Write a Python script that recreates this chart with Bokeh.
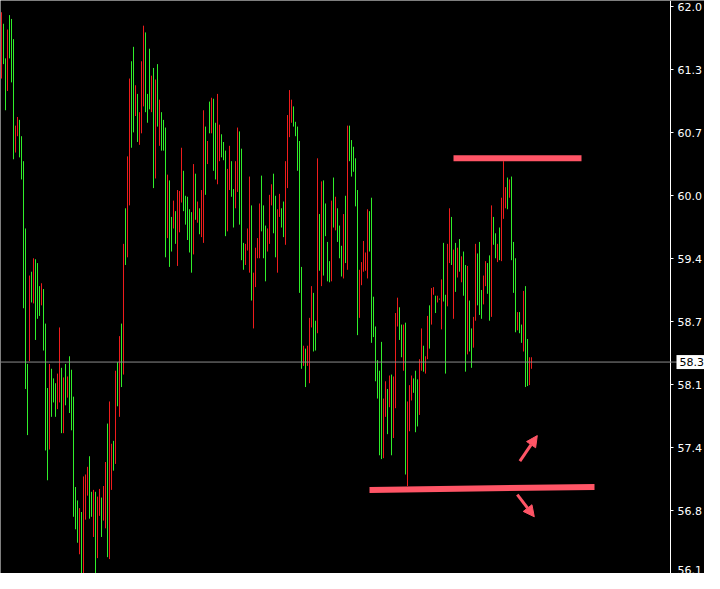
from bokeh.plotting import figure
from bokeh.models import Range1d, FixedTicker, Span, Label, Arrow, NormalHead
from bokeh.embed import file_html
from bokeh.resources import INLINE

# ---- bar data (high / low per bar, 1 = up bar, 0 = down bar) ----
high = [
    61.99, 61.87, 61.51, 61.81, 61.96, 61.92, 61.71, 60.81, 60.90, 60.87,
    60.70, 60.44, 59.74, 58.33, 59.25, 59.29, 59.43, 59.42, 59.38, 59.14,
    59.17, 59.11, 58.75, 58.08, 58.33, 58.28, 58.18, 58.13, 58.23, 58.71,
    58.29, 58.19, 58.33, 58.20, 58.41, 58.27, 57.99, 57.05, 56.91, 56.83,
    56.79, 57.16, 57.18, 57.26, 57.37, 57.00, 57.02, 57.00, 56.95, 57.03,
    56.94, 57.06, 57.31, 57.71, 57.94, 57.50, 57.53, 58.26, 58.35, 58.62,
    58.75, 59.58, 59.95, 60.49, 61.30, 61.48, 61.63,
    61.23, 61.14, 60.95, 61.48, 61.85, 61.78, 61.14, 61.61, 61.33, 61.41,
    61.29, 61.45, 61.08, 60.95, 60.87, 60.79, 60.30, 60.24, 59.86, 60.03,
    59.92, 60.14, 60.13, 60.58, 60.34, 60.08, 60.07, 59.94, 59.91, 60.41,
    60.31, 60.02, 59.95, 60.14, 60.97, 60.80, 60.65, 61.06, 61.10, 61.09,
    60.84, 61.14, 60.82, 60.72, 60.64, 60.55, 60.36, 60.60, 60.44, 60.15,
    60.44, 60.79, 60.75, 60.57, 59.59, 59.58, 59.74, 60.28, 59.98, 59.28,
    59.54, 59.64, 60.00, 60.29, 59.98, 59.77, 59.74,
    60.09, 60.20, 60.31, 60.08, 59.94, 60.10, 59.95, 60.02, 60.44, 60.92,
    61.18, 61.08, 61.01, 60.85, 60.80, 60.65, 59.34, 58.52, 58.49, 58.52,
    58.81, 59.14, 59.07, 58.78, 60.47, 59.89, 60.23, 60.24, 60.00, 59.60,
    59.40, 60.03, 60.27, 60.07, 59.95, 59.77, 59.56, 59.89, 60.08, 60.81,
    60.81, 60.66, 60.59, 60.47, 60.14, 59.31, 59.39, 59.61, 59.49, 59.94,
    59.92, 60.06, 59.03, 58.72, 58.37, 58.26, 58.56, 57.97, 58.15, 58.07,
    58.21, 58.22, 58.20, 58.86, 59.02, 58.92, 58.74,
    58.74, 58.76, 57.94, 58.11, 58.21, 58.18, 58.26, 58.17, 58.38, 58.70,
    58.52, 58.41, 58.83, 58.94, 59.12, 59.13, 59.04, 59.04, 59.01, 59.21,
    59.59, 59.05, 59.58, 59.95, 59.86, 59.52, 59.59, 59.54, 59.63, 59.45,
    59.50, 59.36, 59.35, 58.99, 58.70, 58.82, 59.58, 59.48, 59.60, 59.10,
    59.25, 59.40, 59.38, 59.46, 59.98, 59.86, 59.69, 59.58, 59.75, 60.06,
    60.44, 60.17, 60.27, 60.25, 60.28, 59.60, 59.43, 58.87, 58.87, 58.74,
    59.09, 59.14, 58.59, 58.40, 58.40,
]
low = [
    61.30, 61.45, 60.97, 61.17, 61.51, 61.26, 60.46, 60.53, 60.70, 60.48,
    60.25, 58.91, 58.07, 57.59, 58.36, 58.97, 58.96, 58.58, 58.80, 58.83,
    58.94, 58.47, 57.43, 57.12, 57.44, 57.78, 57.93, 57.78, 57.86, 57.93,
    57.61, 57.61, 57.90, 57.98, 57.82, 57.64, 56.74, 56.61, 56.47, 56.35,
    56.05, 56.10, 56.71, 56.96, 56.72, 56.74, 56.53, 56.00, 56.31, 56.75,
    56.53, 56.70, 56.62, 56.32, 56.30, 57.02, 57.22, 57.29, 57.89, 57.78,
    58.09, 58.22, 59.36, 59.44, 59.98, 60.58, 60.74,
    60.91, 60.64, 60.61, 60.73, 61.01, 60.95, 60.84, 60.98, 60.95, 60.16,
    60.26, 60.80, 60.60, 60.55, 60.55, 59.44, 59.64, 59.34, 59.50, 59.74,
    59.58, 59.35, 59.70, 60.01, 59.92, 59.78, 59.62, 59.49, 59.28, 59.47,
    59.83, 59.80, 59.68, 59.65, 59.59, 60.09, 60.41, 60.73, 60.73, 60.34,
    60.25, 60.20, 60.44, 60.48, 60.45, 59.66, 59.71, 60.14, 60.07, 59.75,
    59.95, 60.12, 59.78, 59.41, 59.31, 59.36, 59.51, 59.28, 58.99, 58.70,
    59.13, 59.43, 59.43, 59.71, 59.43, 59.19, 59.50,
    59.58, 59.98, 59.69, 59.44, 59.28, 59.86, 59.75, 59.65, 59.57, 60.16,
    60.69, 60.84, 60.80, 60.70, 60.34, 59.07, 58.28, 58.31, 58.09, 58.31,
    58.13, 58.71, 58.46, 58.47, 58.65, 59.30, 59.14, 59.25, 59.66, 59.19,
    59.18, 59.19, 59.75, 59.72, 59.60, 59.43, 59.24, 59.22, 59.38, 59.31,
    60.44, 60.28, 60.33, 59.97, 58.63, 58.81, 59.15, 59.29, 59.30, 59.22,
    59.50, 58.55, 58.61, 58.15, 57.97, 57.38, 57.34, 57.35, 57.78, 57.60,
    57.88, 57.38, 57.56, 57.87, 58.72, 58.58, 58.40,
    58.26, 57.18, 57.06, 57.63, 57.95, 58.03, 57.62, 57.68, 57.80, 58.26,
    58.25, 58.23, 58.38, 58.49, 58.74, 59.05, 58.86, 58.97, 59.00, 58.69,
    58.98, 58.23, 58.93, 59.38, 59.36, 58.80, 59.08, 59.23, 59.29, 59.18,
    59.04, 58.25, 58.43, 58.46, 58.29, 58.50, 58.78, 58.94, 58.84, 58.80,
    58.95, 59.14, 59.06, 58.78, 58.82, 59.57, 59.43, 59.39, 59.41, 59.40,
    59.84, 59.95, 59.94, 60.06, 59.41, 59.07, 58.66, 58.68, 58.65, 58.55,
    58.46, 58.09, 58.10, 58.11, 58.28,
]
up = [
    0, 1, 1, 0, 1, 1, 1, 0, 0, 1, 1, 1, 1, 1, 0, 1, 0, 1, 1, 1,
    0, 1, 1, 1, 0, 1, 1, 1, 0, 0, 1, 0, 1, 0, 1, 1, 1, 1, 1, 0,
    1, 0, 0, 0, 1, 1, 0, 1, 0, 0, 1, 0, 0, 1, 0, 0, 1, 0, 1, 0,
    1, 0, 1, 0, 0, 1, 1,
    0, 1, 0, 0, 0, 1, 1, 1, 0, 1, 0, 1, 0, 1, 1, 1, 0, 1, 1, 0,
    1, 0, 0, 0, 1, 1, 1, 1, 1, 0, 1, 0, 1, 0, 0, 1, 0, 1, 0, 1,
    1, 0, 0, 1, 1, 1, 0, 0, 1, 1, 0, 0, 1, 1, 1, 0, 0, 0, 1, 0,
    0, 0, 0, 1, 1, 1, 0,
    0, 0, 1, 1, 0, 0, 1, 1, 0, 0, 0, 0, 1, 1, 1, 1, 1, 0, 1, 0,
    0, 0, 1, 1, 0, 1, 0, 1, 1, 1, 1, 0, 1, 0, 1, 1, 1, 0, 1, 0,
    1, 1, 1, 1, 1, 0, 0, 0, 0, 0, 1, 1, 1, 1, 1, 1, 1, 0, 0, 1,
    0, 1, 0, 0, 0, 1, 1,
    0, 1, 0, 0, 0, 1, 1, 1, 0, 0, 1, 0, 0, 1, 0, 0, 1, 0, 1, 0,
    1, 1, 0, 0, 1, 0, 1, 0, 1, 0, 1, 1, 0, 1, 1, 0, 0, 1, 1, 1,
    0, 0, 1, 1, 0, 1, 1, 0, 1, 0,
    0, 0, 1, 0, 1, 1, 1, 0, 1, 1, 0, 1, 1, 0, 0,
]

# ---- price axis ----
tick_values = [62.045, 61.39, 60.735, 60.08, 59.425, 58.77, 58.115, 57.46, 56.805, 56.15]
tick_labels = ["62.0", "61.3", "60.7", "60.0", "59.4", "58.7", "58.1", "57.4", "56.8", "56.1"]
last_price = 58.35
last_label = "58.3"

# ---- hand-drawn annotations (bar index, price) ----
resistance_x = [226, 290]
resistance_y = [60.47, 60.47]
support_x = [184, 296.5]
support_y = [57.02, 57.05]
arrow_up_start = (259.2, 57.32)
arrow_up_end = (267.9, 57.585)
arrow_dn_start = (257.9, 56.97)
arrow_dn_end = (266.4, 56.74)

UP_C = "#30ee2a"
DN_C = "#ee1c1c"
MARK_C = "#ff5566"

W, H, RB = 704, 573, 34
axis_x = -0.5 + (W - RB) / 2   # data position of the price scale line

idx = list(range(len(high)))
colors = [UP_C if u else DN_C for u in up]

p = figure(width=W, height=H, output_backend="svg", toolbar_location=None,
           x_range=Range1d(-0.5, -0.5 + W / 2), y_range=Range1d(56.15, 62.112),
           x_axis_location=None, y_axis_location="right",
           background_fill_color="black", border_fill_color="black",
           min_border=0)
p.outline_line_color = None
p.grid.visible = False

ax = p.yaxis[0]
ax.fixed_location = axis_x
ax.ticker = FixedTicker(ticks=tick_values)
ax.major_label_overrides = dict(zip(tick_values, tick_labels))
ax.axis_line_color = "white"
ax.major_tick_line_color = "white"
ax.major_tick_in = 0
ax.major_tick_out = 3
ax.minor_tick_line_color = None
ax.major_label_text_color = "white"
ax.major_label_text_font = "DejaVu Sans"
ax.major_label_text_font_size = "11px"
ax.major_label_standoff = 4

p.segment(x0=idx, y0=low, x1=idx, y1=high, line_color=colors, line_width=1)

p.add_layout(Span(location=last_price, dimension="width",
                  line_color="#8c8c8c", line_width=1))

p.line(resistance_x, resistance_y, line_color=MARK_C, line_width=6, line_cap="butt")
p.line(support_x, support_y, line_color=MARK_C, line_width=6, line_cap="butt")

for (xs, ys), (xe, ye) in [(arrow_up_start, arrow_up_end), (arrow_dn_start, arrow_dn_end)]:
    p.add_layout(Arrow(end=NormalHead(size=11, fill_color=MARK_C, line_color=MARK_C),
                       x_start=xs, y_start=ys, x_end=xe, y_end=ye,
                       line_color=MARK_C, line_width=3))

p.add_layout(Label(x=axis_x, y=last_price, x_offset=6, text=last_label,
                   text_color="black", text_font="DejaVu Sans", text_font_size="11px",
                   text_baseline="middle", text_align="left", level="overlay",
                   background_fill_color="white", padding=3))

open("out.html", "w").write(file_html(p, INLINE))
